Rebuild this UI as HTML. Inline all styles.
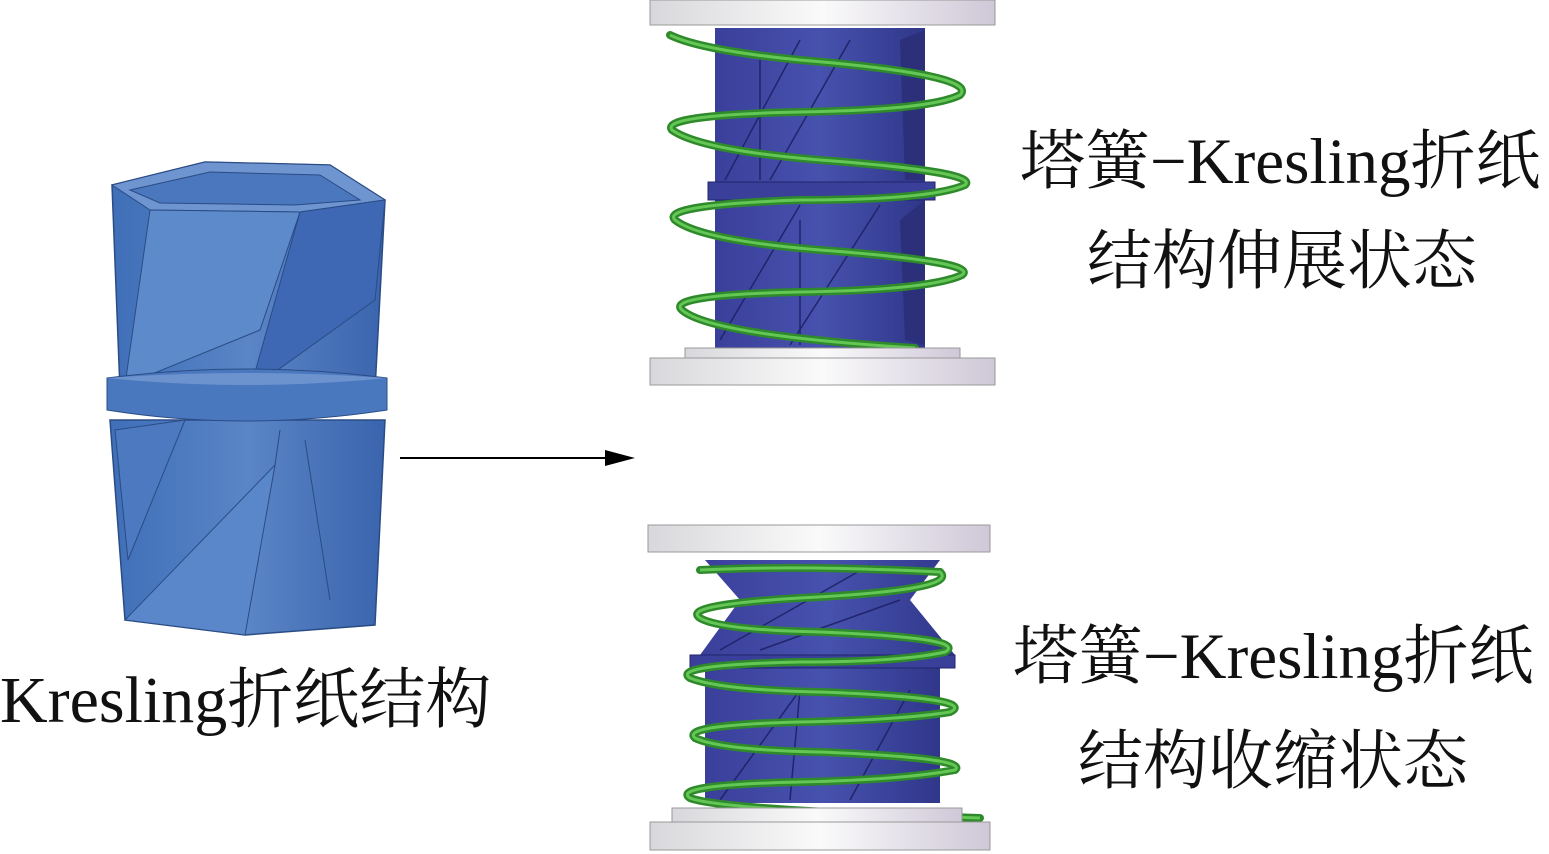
<!DOCTYPE html>
<html><head><meta charset="utf-8"><style>
html,body{margin:0;padding:0;background:#fff;}
body{width:1549px;height:854px;overflow:hidden;position:relative;}
.t{position:absolute;font-family:"Liberation Serif","Noto Serif CJK SC",serif;color:#111;white-space:nowrap;line-height:1;}
</style></head><body>
<svg width="1549" height="854" style="position:absolute;left:0;top:0">
<defs>
<linearGradient id="plate" x1="0" x2="1"><stop offset="0" stop-color="#d8d8dc"/><stop offset="0.5" stop-color="#fafafa"/><stop offset="1" stop-color="#cfc8d8"/></linearGradient>
<linearGradient id="blue" x1="0" x2="1"><stop offset="0" stop-color="#3f6fb8"/><stop offset="0.5" stop-color="#5a85c6"/><stop offset="1" stop-color="#3a64ad"/></linearGradient>
<linearGradient id="dblue" x1="0" x2="1"><stop offset="0" stop-color="#3a3f9a"/><stop offset="0.5" stop-color="#4752ae"/><stop offset="1" stop-color="#30378a"/></linearGradient>
</defs>
<polygon points="112,185 205,162 330,165 385,200 375,390 120,390" fill="url(#blue)" stroke="#2a4c85" stroke-width="1.5"/>
<polygon points="112,185 205,162 330,165 385,200 300,212 150,210" fill="#6f95d0" stroke="#2a4c85"/>
<polygon points="130,190 210,172 320,175 360,200 295,205 160,203" fill="#4a77bd" stroke="#2a4c85"/>
<polygon points="150,210 300,212 260,330 125,385" fill="#5d8acb" stroke="#2a4c85"/>
<polygon points="300,212 385,200 375,300 250,390" fill="#3e68b3" stroke="#2a4c85"/>
<polygon points="110,420 385,420 375,625 245,635 125,620" fill="url(#blue)" stroke="#2a4c85" stroke-width="1.5"/>
<polygon points="125,620 275,465 245,635" fill="#5a87c9" stroke="#2a4c85"/>
<polygon points="115,430 185,420 128,560" fill="#4c79bf" stroke="#2a4c85"/>
<polyline points="275,465 280,430" fill="none" stroke="#2a4c85"/>
<polyline points="305,440 330,600" fill="none" stroke="#2a4c85"/>
<path d="M107,378 Q245,360 387,378 L387,410 Q245,432 107,410 Z" fill="#4a78be" stroke="#2a4c85"/>
<path d="M107,378 Q245,368 387,378 Q245,392 107,378 Z" fill="#6d93cf"/>
<line x1="400" y1="458" x2="612" y2="458" stroke="#000" stroke-width="2"/>
<polygon points="635,458 605,450 605,466" fill="#000"/>
<rect x="650" y="0" width="345" height="25" fill="url(#plate)" stroke="#999"/>
<rect x="715" y="28" width="210" height="155" fill="url(#dblue)"/>
<rect x="715" y="198" width="210" height="152" fill="url(#dblue)"/>
<polygon points="900,40 925,30 925,180 905,180" fill="#2c2f7a"/>
<polygon points="900,220 925,200 925,345 905,340" fill="#2c2f7a"/>
<g fill="none" stroke="#20246a" stroke-width="1.5">
<line x1="725" y1="180" x2="800" y2="40"/><line x1="770" y1="180" x2="850" y2="40"/>
<line x1="720" y1="340" x2="800" y2="205"/><line x1="790" y1="345" x2="880" y2="205"/>
<line x1="760" y1="60" x2="760" y2="180"/><line x1="800" y1="220" x2="800" y2="345"/>
</g>
<rect x="708" y="182" width="227" height="18" fill="#3a3f9a" stroke="#20246a"/>
<g fill="none" stroke="#2e8a2a" stroke-width="8" stroke-linecap="round">
<path d="M670,35 Q700,50 800,60 Q980,75 960,95 Q930,110 800,112 Q660,115 672,130 Q700,150 820,160 Q980,172 965,185 Q930,200 800,200 Q660,205 675,220 Q700,240 820,250 Q980,262 962,275 Q930,290 800,292 Q665,295 682,310 Q710,335 915,348"/>
</g>
<g fill="none" stroke="#64c655" stroke-width="3">
<path d="M670,35 Q700,50 800,60 Q980,75 960,95 Q930,110 800,112 Q660,115 672,130 Q700,150 820,160 Q980,172 965,185 Q930,200 800,200 Q660,205 675,220 Q700,240 820,250 Q980,262 962,275 Q930,290 800,292 Q665,295 682,310 Q710,335 915,348"/>
</g>
<rect x="685" y="348" width="275" height="10" fill="url(#plate)" stroke="#999"/>
<rect x="650" y="358" width="345" height="27" fill="url(#plate)" stroke="#999"/>
<rect x="648" y="525" width="342" height="27" fill="url(#plate)" stroke="#999"/>
<polygon points="705,560 940,560 910,600 955,655 700,655 740,600" fill="url(#dblue)"/>
<rect x="705" y="668" width="235" height="135" fill="url(#dblue)"/>
<rect x="690" y="655" width="265" height="13" fill="#3a3f9a" stroke="#20246a"/>
<g fill="none" stroke="#20246a" stroke-width="1.5">
<line x1="720" y1="650" x2="870" y2="565"/><line x1="760" y1="650" x2="900" y2="600"/>
<line x1="720" y1="800" x2="800" y2="690"/><line x1="790" y1="800" x2="800" y2="690"/><line x1="850" y1="800" x2="910" y2="690"/>
</g>
<g fill="none" stroke="#2e8a2a" stroke-width="8" stroke-linecap="round">
<path d="M700,570 Q800,565 940,572 Q960,590 800,598 Q680,605 700,618 Q720,630 820,632 Q970,638 945,652 Q900,662 800,662 Q670,665 690,678 Q720,690 820,692 Q980,698 950,712 Q900,720 800,722 Q680,725 695,738 Q720,750 820,752 Q970,758 955,770 Q900,780 800,782 Q670,785 690,798 Q720,810 980,818"/>
</g>
<g fill="none" stroke="#64c655" stroke-width="3">
<path d="M700,570 Q800,565 940,572 Q960,590 800,598 Q680,605 700,618 Q720,630 820,632 Q970,638 945,652 Q900,662 800,662 Q670,665 690,678 Q720,690 820,692 Q980,698 950,712 Q900,720 800,722 Q680,725 695,738 Q720,750 820,752 Q970,758 955,770 Q900,780 800,782 Q670,785 690,798 Q720,810 980,818"/>
</g>
<rect x="672" y="808" width="290" height="14" fill="url(#plate)" stroke="#999"/>
<rect x="650" y="822" width="340" height="28" fill="url(#plate)" stroke="#999"/>
</svg>
<div class="t" style="left:1020px;top:130px;font-size:65px;">塔簧−Kresling折纸</div>
<div class="t" style="left:1087px;top:230px;font-size:65px;">结构伸展状态</div>
<div class="t" style="left:1013px;top:625px;font-size:65px;">塔簧−Kresling折纸</div>
<div class="t" style="left:1078px;top:730px;font-size:65px;">结构收缩状态</div>
<div class="t" style="left:0px;top:668px;font-size:66px;">Kresling折纸结构</div>
</body></html>
